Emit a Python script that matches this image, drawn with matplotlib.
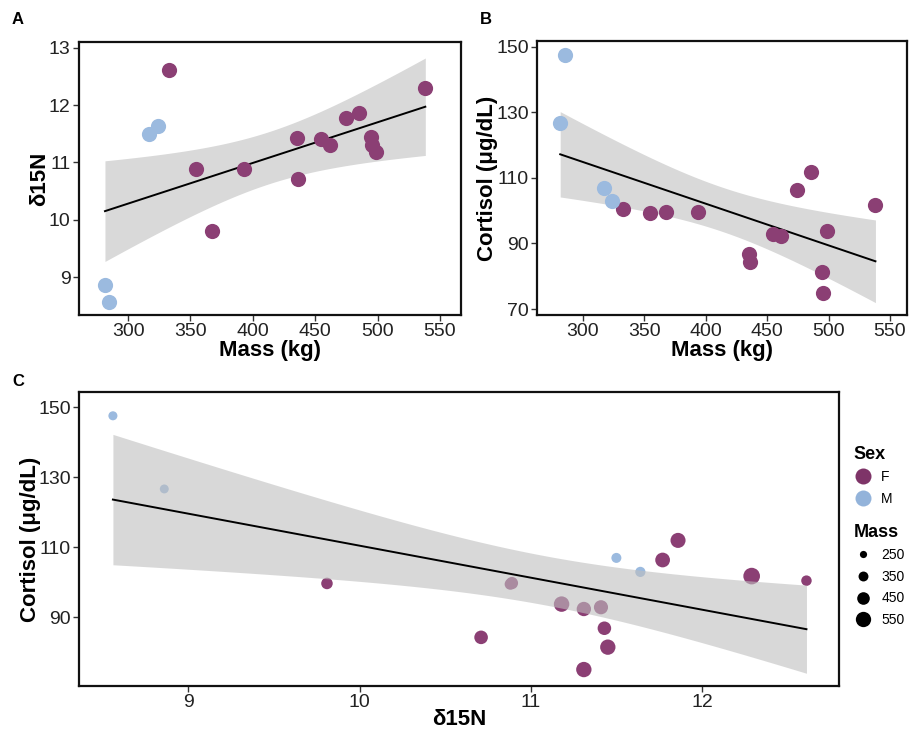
import numpy as np
import matplotlib
matplotlib.use("Agg")
import matplotlib.pyplot as plt
from matplotlib.lines import Line2D

plt.rcParams['font.family'] = ['Liberation Sans', 'DejaVu Sans']

# ---- data (one entry per animal) ----
sex = ['M', 'M', 'M', 'M', 'F', 'F', 'F', 'F', 'F', 'F', 'F', 'F', 'F', 'F', 'F', 'F', 'F', 'F']
mass = [281.5, 285.0, 316.8, 324.0, 332.7, 354.6, 367.3, 393.3, 435.0, 436.3,
        454.6, 461.5, 474.5, 485.4, 499.0, 494.3, 495.2, 538.2]
d15n = [8.86, 8.56, 11.50, 11.64, 12.61, 10.88, 9.81, 10.89, 11.43, 10.71,
        11.41, 11.31, 11.77, 11.86, 11.18, 11.45, 11.31, 12.29]
cortisol = [126.6, 147.5, 106.9, 102.9, 100.4, 99.4, 99.6, 99.7, 86.8, 84.2,
            92.8, 92.3, 106.3, 111.9, 93.7, 81.4, 75.0, 101.7]

mass_ticks = [300, 350, 400, 450, 500, 550]
d15n_ticks_y = [9, 10, 11, 12, 13]
cort_ticks_b = [70, 90, 110, 130, 150]
cort_ticks_c = [90, 110, 130, 150]
d15n_ticks_x = [9, 10, 11, 12]
legend_mass = [250, 350, 450, 550]

mass = np.array(mass)
d15n = np.array(d15n)
cortisol = np.array(cortisol)
sex = np.array(sex)

COL = {'F': '#8B3F74', 'M': '#9BBADF'}
LEGCOL = {'F': '#7E3468', 'M': '#93B3DA'}
BAND = '#D9D9D9'
T975 = 2.1199  # t quantile, df = 16

W, H = 909, 731
fig = plt.figure(figsize=(W / 100, H / 100), dpi=100)


def add_ax(l, r, t, b):
    return fig.add_axes([l / W, (H - b) / H, (r - l) / W, (b - t) / H])


def lm_band(x, y, npts=100):
    n = len(x)
    b1, b0 = np.polyfit(x, y, 1)
    resid = y - (b0 + b1 * x)
    s = np.sqrt(np.sum(resid ** 2) / (n - 2))
    xs = np.linspace(x.min(), x.max(), npts)
    sxx = np.sum((x - x.mean()) ** 2)
    se = s * np.sqrt(1 / n + (xs - x.mean()) ** 2 / sxx)
    fit = b0 + b1 * xs
    return xs, fit, fit - T975 * se, fit + T975 * se


def style(ax):
    for sp in ax.spines.values():
        sp.set_linewidth(1.6)
        sp.set_color('#111111')
    ax.tick_params(axis='both', direction='out', length=4, width=1,
                   color='#333333', labelsize=14, labelcolor='#222222', pad=2)


def mass_size(m):
    d = 8.0 + 9.0 * (np.asarray(m) - 250) / 300.0  # px diameter
    return (d * 0.72) ** 2


# ---- Panel A ----
axA = add_ax(79, 461, 42, 315)
xs, fit, lo, hi = lm_band(mass, d15n)
axA.fill_between(xs, lo, hi, color=BAND, lw=0, zorder=1)
axA.plot(xs, fit, color='black', lw=1.4, zorder=2)
for s_ in ['F', 'M']:
    m = sex == s_
    axA.scatter(mass[m], d15n[m], s=120, color=COL[s_], lw=0, zorder=3)
axA.set_xlim(260.7, 566.8)
axA.set_ylim(8.34, 13.1)
axA.set_xticks(mass_ticks)
axA.set_yticks(d15n_ticks_y)
style(axA)
axA.set_xlabel('Mass (kg)', fontsize=16, fontweight='bold')
axA.set_ylabel('δ15N', fontsize=16, fontweight='bold')
axA.xaxis.set_label_coords(0.5, -0.09)
axA.yaxis.set_label_coords(-0.076, 0.5)

# ---- Panel B ----
axB = add_ax(537, 907, 41, 315)
xs, fit, lo, hi = lm_band(mass, cortisol)
axB.fill_between(xs, lo, hi, color=BAND, lw=0, zorder=1)
axB.plot(xs, fit, color='black', lw=1.4, zorder=2)
for s_ in ['F', 'M']:
    m = sex == s_
    axB.scatter(mass[m], cortisol[m], s=120, color=COL[s_], lw=0, zorder=3)
axB.set_xlim(262.6, 563.9)
axB.set_ylim(68.2, 151.7)
axB.set_xticks(mass_ticks)
axB.set_yticks(cort_ticks_b)
style(axB)
axB.set_xlabel('Mass (kg)', fontsize=16, fontweight='bold')
axB.set_ylabel('Cortisol (μg/dL)', fontsize=16, fontweight='bold')
axB.xaxis.set_label_coords(0.5, -0.09)
axB.yaxis.set_label_coords(-0.105, 0.5)

# ---- Panel C ----
axC = add_ax(79, 839, 392, 686)
for s_ in ['F', 'M']:
    m = sex == s_
    axC.scatter(d15n[m], cortisol[m], s=mass_size(mass[m]), color=COL[s_], lw=0, zorder=1)
xs, fit, lo, hi = lm_band(d15n, cortisol)
axC.fill_between(xs, lo, hi, color='#BFBFBF', alpha=0.6, lw=0, zorder=2)
axC.plot(xs, fit, color='black', lw=1.4, zorder=3)
axC.set_xlim(8.362, 12.80)
axC.set_ylim(70.3, 154.3)
axC.set_xticks(d15n_ticks_x)
axC.set_yticks(cort_ticks_c)
style(axC)
axC.set_xlabel('δ15N', fontsize=16, fontweight='bold')
axC.set_ylabel('Cortisol (μg/dL)', fontsize=16, fontweight='bold')
axC.xaxis.set_label_coords(0.5, -0.078)
axC.yaxis.set_label_coords(-0.05, 0.5)

# ---- panel letters ----
fig.text(18 / W, 1 - 20 / H, 'A', fontsize=12, fontweight='bold', va='center', ha='center')
fig.text(486 / W, 1 - 20 / H, 'B', fontsize=12, fontweight='bold', va='center', ha='center')
fig.text(18 / W, 1 - 382 / H, 'C', fontsize=12, fontweight='bold', va='center', ha='center')

# ---- legends ----
sex_handles = [Line2D([], [], marker='o', ls='', markersize=16 * 0.72,
                      markerfacecolor=LEGCOL[k], markeredgewidth=0) for k in ['F', 'M']]
leg1 = fig.legend(sex_handles, ['F', 'M'], title='Sex', loc='upper left',
                  bbox_to_anchor=(848 / W, 1 - 440 / H), frameon=False,
                  fontsize=10, title_fontproperties={'weight': 'bold', 'size': 13},
                  alignment='left', handletextpad=0.7, labelspacing=0.55,
                  borderaxespad=0, handlelength=1.3)
size_handles = [Line2D([], [], marker='o', ls='', markersize=np.sqrt(mass_size(v)) * 0.9,
                       markerfacecolor='black', markeredgewidth=0) for v in legend_mass]
leg2 = fig.legend(size_handles, [str(v) for v in legend_mass], title='Mass', loc='upper left',
                  bbox_to_anchor=(848 / W, 1 - 518 / H), frameon=False,
                  fontsize=10, title_fontproperties={'weight': 'bold', 'size': 13},
                  alignment='left', handletextpad=0.7, labelspacing=0.55,
                  borderaxespad=0, handlelength=1.3)

fig.savefig('out.png', dpi=100)
